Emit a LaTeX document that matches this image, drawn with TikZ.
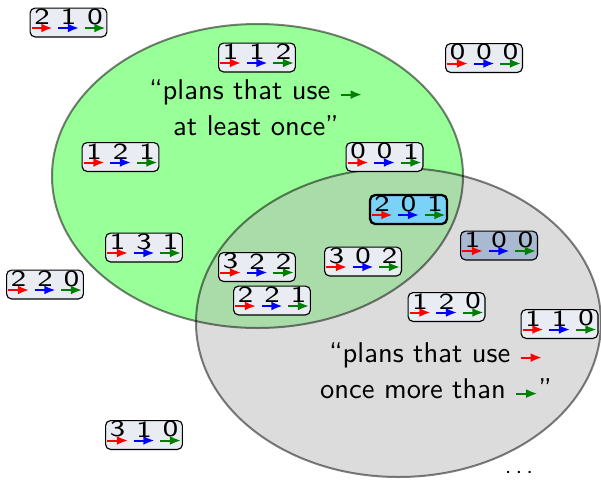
\documentclass[tikz,border=0pt]{standalone}
\usepackage{fontspec}
\usepackage{graphicx}
\usetikzlibrary{arrows.meta,calc}
\definecolor{planfill}{RGB}{233,236,243}
\definecolor{hlfill}{RGB}{122,210,247}
\definecolor{dimfill}{RGB}{170,185,210}
\definecolor{dgreen}{RGB}{0,128,0}
\definecolor{setgreen}{RGB}{0,255,0}
\tikzset{
 arr/.style={line width=0.7pt,-{Latex[length=3.9pt,width=3.1pt]}},
 planbox/.style={draw=black,line width=0.4pt,rounded corners=1.75pt,fill=planfill,minimum width=26.9pt,minimum height=10.1pt,inner sep=0pt},
 chosen/.style={fill=hlfill,line width=0.8pt},
 dimmed/.style={fill=dimfill},
 digit/.style={inner sep=0pt,font=\sffamily\fontsize{8.1}{9}\selectfont},
 setlabel/.style={align=center,inner sep=0pt,anchor=north,font=\sffamily\fontsize{10}{12.6}\selectfont},
 setline/.style={draw=black,draw opacity=0.5,line width=0.7pt},
}
\newcommand\inarrow[1]{\tikz[baseline=0pt]\draw[arr,#1](0pt,1.75pt)--(7.35pt,1.75pt);}
\newcommand\dig[1]{\scalebox{1.25}[1]{#1}}
\newcommand\plan[6][]{%
 \node[planbox,#1] (#2) at (#3) {};
 \node[digit] (#2-a) at ($(#2.center)+(-26.5,-5.8)$) {\dig{#4}};
 \node[digit] (#2-b) at ($(#2.center)+(0,-5.8)$) {\dig{#5}};
 \node[digit] (#2-c) at ($(#2.center)+(26.5,-5.8)$) {\dig{#6}};
 \draw[arr,red] ($(#2.center)+(-37,5.5)$) -- ++(21,0);
 \draw[arr,blue] ($(#2.center)+(-10.5,5.5)$) -- ++(21,0);
 \draw[arr,dgreen] ($(#2.center)+(16,5.5)$) -- ++(21,0);
}
\begin{document}
\begin{tikzpicture}[x=0.35pt,y=-0.35pt]
\useasboundingbox (0,0) rectangle (601,479);
% sets
\fill[setgreen,fill opacity=0.4] (257.5,176) ellipse [x radius=205.5,y radius=152];
\fill[black!27,fill opacity=0.5] (398.5,322.5) ellipse [x radius=202.5,y radius=154.5];
\path[setline] (257.5,176) ellipse [x radius=205.5,y radius=152];
\path[setline] (398.5,322.5) ellipse [x radius=202.5,y radius=154.5];
% plans
\plan{p210}{68.5,22.5}{2}{1}{0}
\plan{p112}{257,57.5}{1}{1}{2}
\plan{p000}{484,58}{0}{0}{0}
\plan{p121}{120.5,157}{1}{2}{1}
\plan{p001}{384.5,157}{0}{0}{1}
\plan[chosen]{p201}{408.5,209.5}{2}{0}{1}
\plan{p131}{144,247.5}{1}{3}{1}
\plan[dimmed]{p100}{499,245.5}{1}{0}{0}
\plan{p322}{257,267}{3}{2}{2}
\plan{p302}{363,261.5}{3}{0}{2}
\plan{p220}{45,284.5}{2}{2}{0}
\plan{p221}{272,300.5}{2}{2}{1}
\plan{p120}{446.5,307}{1}{2}{0}
\plan{p110}{559.5,324}{1}{1}{0}
\plan{p310}{144,435}{3}{1}{0}
% labels
\node[setlabel] (usegreen) at (256,79.2) {``plans that use \inarrow{dgreen}\\at least once''};
\node[setlabel] (morered) at (436,342.2) {``plans that use \inarrow{red}\\once more than \inarrow{dgreen}''};
\node[font=\sffamily\fontsize{8}{9}\selectfont,anchor=base,inner sep=0pt] (more) at (519,473) {.\kern1.4pt.\kern1.4pt.};
\end{tikzpicture}
\end{document}
